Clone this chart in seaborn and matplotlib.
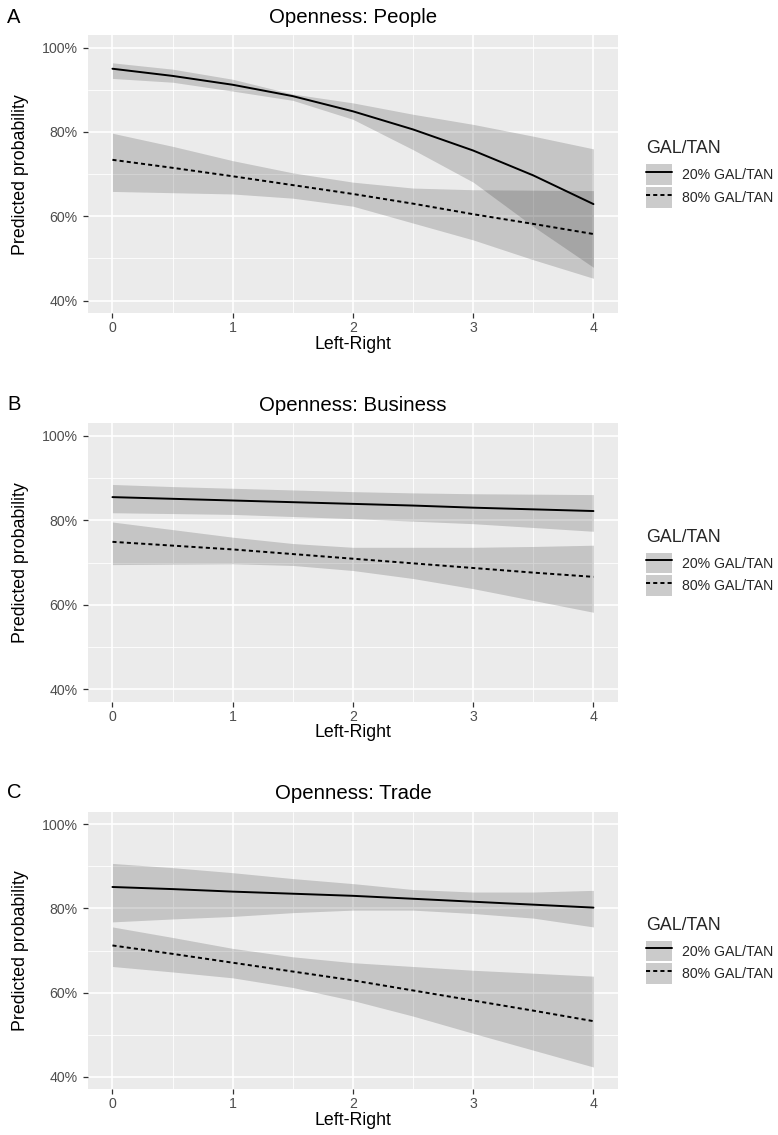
import numpy as np
import pandas as pd
import matplotlib
matplotlib.use("Agg")
import matplotlib.pyplot as plt
import seaborn as sns
from matplotlib.patches import Patch
from matplotlib.lines import Line2D
from matplotlib.legend_handler import HandlerTuple
from matplotlib.ticker import MultipleLocator, FixedLocator

# Left-right position at which predictions were evaluated
left_right = [0.0, 0.5, 1.0, 1.5, 2.0, 2.5, 3.0, 3.5, 4.0]

groups = ["20% GAL/TAN", "80% GAL/TAN"]
panel_letters = ["A", "B", "C"]
panel_titles = ["Openness: People", "Openness: Business", "Openness: Trade"]

# Predicted probability (%) with lower / upper confidence bounds
people_20_fit = [95.0, 93.3, 91.2, 88.5, 84.9, 80.6, 75.6, 69.7, 62.9]
people_20_lo = [92.7, 91.8, 89.7, 87.5, 83.0, 75.8, 68.1, 57.6, 47.9]
people_20_hi = [96.4, 94.9, 92.5, 89.0, 86.9, 84.2, 81.8, 79.0, 76.0]
people_80_fit = [73.4, 71.5, 69.5, 67.4, 65.3, 63.0, 60.5, 58.2, 55.8]
people_80_lo = [65.9, 65.6, 65.3, 64.3, 62.4, 58.4, 54.4, 49.7, 45.3]
people_80_hi = [79.7, 76.6, 73.2, 70.3, 68.1, 66.7, 66.3, 66.2, 66.1]

business_20_fit = [85.5, 85.1, 84.7, 84.3, 83.9, 83.5, 83.0, 82.6, 82.2]
business_20_lo = [81.8, 81.6, 81.4, 80.9, 80.4, 79.8, 79.2, 78.3, 77.4]
business_20_hi = [88.5, 88.0, 87.6, 87.2, 86.8, 86.5, 86.3, 86.2, 86.1]
business_80_fit = [74.9, 74.0, 73.1, 72.0, 70.9, 69.8, 68.7, 67.6, 66.6]
business_80_lo = [69.5, 69.6, 69.7, 69.3, 68.1, 66.2, 63.8, 61.0, 58.2]
business_80_hi = [79.6, 77.8, 76.0, 74.5, 73.6, 73.6, 73.6, 73.8, 74.1]

trade_20_fit = [85.1, 84.6, 84.0, 83.5, 83.0, 82.3, 81.6, 80.9, 80.2]
trade_20_lo = [76.8, 77.5, 78.1, 79.0, 79.6, 79.6, 78.8, 77.7, 75.6]
trade_20_hi = [90.7, 89.7, 88.5, 87.1, 85.9, 84.5, 83.9, 83.9, 84.3]
trade_80_fit = [71.2, 69.2, 67.1, 65.0, 62.9, 60.5, 58.1, 55.7, 53.2]
trade_80_lo = [66.2, 64.9, 63.5, 61.2, 58.1, 54.4, 50.3, 46.3, 42.3]
trade_80_hi = [75.6, 73.1, 70.5, 68.5, 67.1, 66.2, 65.3, 64.6, 63.9]

y_ticks = [40, 60, 80, 100]
y_tick_labels = ["40%", "60%", "80%", "100%"]
x_ticks = [0, 1, 2, 3, 4]

panels = [
    [(people_20_fit, people_20_lo, people_20_hi), (people_80_fit, people_80_lo, people_80_hi)],
    [(business_20_fit, business_20_lo, business_20_hi), (business_80_fit, business_80_lo, business_80_hi)],
    [(trade_20_fit, trade_20_lo, trade_20_hi), (trade_80_fit, trade_80_lo, trade_80_hi)],
]

sns.set_theme(style="darkgrid", rc={
    "axes.facecolor": "#EBEBEB",
    "figure.facecolor": "white",
    "grid.color": "white",
})
plt.rcParams["font.family"] = ["Liberation Sans", "DejaVu Sans"]

TICK_GREY = "#4D4D4D"
DASH = (2.1, 1.6)
LW = 1.4
RIBBON_ALPHA = 0.16
KEY_FILL = "#CBCBCB"

fig = plt.figure(figsize=(7.78, 11.35), dpi=100)
W, H = 778.0, 1135.0
ax_left, ax_right = 88.4, 617.5
panel_tops = [35.0, 423.3, 811.7]
panel_bottoms = [313.3, 701.7, 1089.3]
letter_baselines = [23.0, 409.5, 798.0]

for i, (series, letter, title) in enumerate(zip(panels, panel_letters, panel_titles)):
    top, bottom = panel_tops[i], panel_bottoms[i]
    ax = fig.add_axes([ax_left / W, 1 - bottom / H, (ax_right - ax_left) / W, (bottom - top) / H])
    ax.set_axisbelow(True)

    frames = []
    for grp, (fit, lo, hi) in zip(groups, series):
        ax.fill_between(left_right, lo, hi, color="black", alpha=RIBBON_ALPHA, lw=0, zorder=1)
        frames.append(pd.DataFrame({"lr": left_right, "prob": fit, "group": grp}))
    df = pd.concat(frames, ignore_index=True)

    sns.lineplot(data=df, x="lr", y="prob", style="group", style_order=groups,
                 dashes={groups[0]: "", groups[1]: DASH}, color="black",
                 linewidth=LW, errorbar=None, legend=False, ax=ax, zorder=3)

    ax.set_xlim(-0.2, 4.2)
    ax.set_ylim(37, 103)
    ax.xaxis.set_major_locator(FixedLocator(x_ticks))
    ax.set_xticklabels([str(v) for v in x_ticks])
    ax.yaxis.set_major_locator(FixedLocator(y_ticks))
    ax.set_yticklabels(y_tick_labels)
    ax.xaxis.set_minor_locator(MultipleLocator(0.5))
    ax.yaxis.set_minor_locator(MultipleLocator(10))

    ax.grid(which="major", color="white", linewidth=1.2)
    ax.grid(which="minor", color="white", linewidth=0.6)
    for s in ax.spines.values():
        s.set_visible(False)

    ax.tick_params(which="major", bottom=True, left=True, length=3.5, width=0.9,
                   color="#333333", labelsize=10.2, labelcolor=TICK_GREY)
    ax.tick_params(axis="x", which="major", pad=2.4)
    ax.tick_params(axis="y", which="major", pad=4.2)
    ax.tick_params(which="minor", length=0)

    ax.set_xlabel("Left-Right", fontsize=12.8, color="black")
    ax.set_ylabel("Predicted probability", fontsize=12.8, color="black")
    ax.xaxis.set_label_coords(0.5, -0.08)
    ax.yaxis.set_label_coords(-0.1123, 0.5)

    ax.set_title(title, fontsize=14.7, color="black", pad=8.8)
    fig.text(7.3 / W, 1 - letter_baselines[i] / H, letter, fontsize=14.5,
             ha="left", va="baseline", color="black")

    handles = [
        (Patch(facecolor=KEY_FILL, edgecolor="none"), Line2D([], [], color="black", lw=LW)),
        (Patch(facecolor=KEY_FILL, edgecolor="none"), Line2D([], [], color="black", lw=LW, dashes=DASH)),
    ]
    leg = ax.legend(handles, groups, title="GAL/TAN", loc="center left",
                    bbox_to_anchor=((646 - ax_left) / (ax_right - ax_left), 0.5),
                    borderaxespad=0, borderpad=0, frameon=False,
                    fontsize=10.2, title_fontsize=12.8, alignment="left",
                    handlelength=1.83, handleheight=1.9, handletextpad=0.7,
                    labelspacing=0.14,
                    handler_map={tuple: HandlerTuple(ndivide=1, pad=0)})
    leg._legend_box.sep = 5

fig.savefig("out.png", dpi=100)
